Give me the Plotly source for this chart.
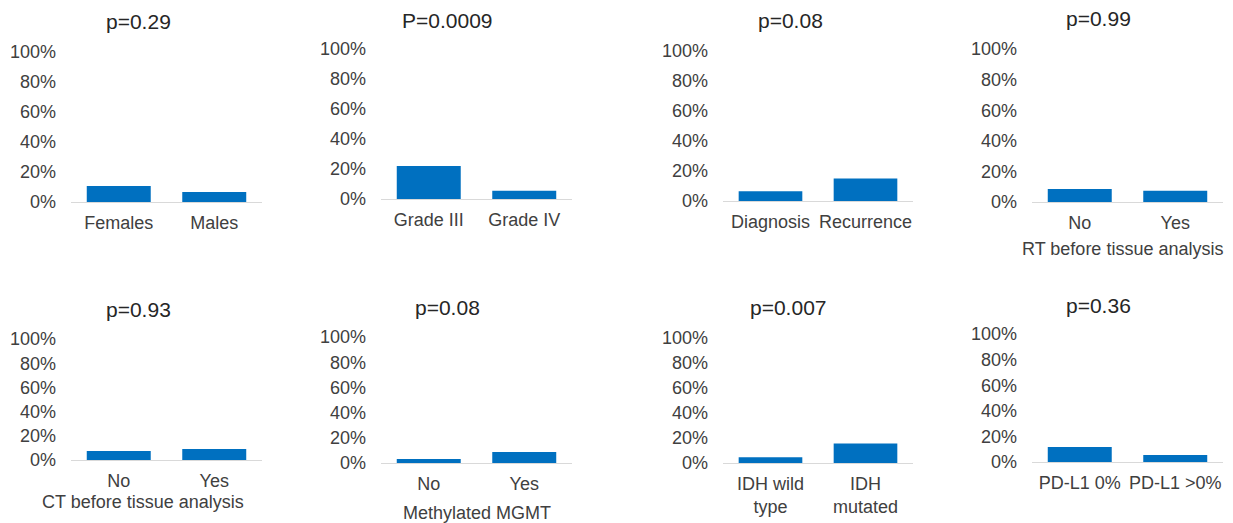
import plotly.graph_objects as go

W, H = 1233, 523
OFF = 8  # page body margin offset

titles = ["p=0.29", "P=0.0009", "p=0.08", "p=0.99", "p=0.93", "p=0.08", "p=0.007", "p=0.36"]
categories = [
    ["Females", "Males"],
    ["Grade III", "Grade IV"],
    ["Diagnosis", "Recurrence"],
    ["No", "Yes"],
    ["No", "Yes"],
    ["No", "Yes"],
    ["IDH wild<br>type", "IDH<br>mutated"],
    ["PD-L1 0%", "PD-L1 >0%"],
]
values = [
    [10.7, 6.7],
    [22.0, 5.5],
    [6.5, 15.0],
    [8.5, 7.3],
    [7.4, 9.0],
    [3.1, 8.7],
    [4.7, 15.7],
    [11.7, 5.5],
]
xtitles = ["", "", "", "RT before tissue analysis", "CT before tissue analysis", "Methylated MGMT", "", ""]
ytickvals = [0, 20, 40, 60, 80, 100]
yticktext = ["0%", "20%", "40%", "60%", "80%", "100%"]

# layout in screen pixels: (x0, x1, y_at_100, y_at_0)
boxes = [
    (71, 262, 52, 202), (381, 572, 49, 199), (723, 913, 51, 201), (1032, 1223, 49, 202),
    (71, 262, 339, 460), (381, 572, 337, 463), (723, 913, 338, 463), (1032, 1223, 334, 462),
]
title_pos = [(138, 22), (447, 20), (790, 20), (1098, 18), (138, 309), (447, 307), (788, 307), (1098, 305)]
xtitle_pos = [None, None, None, (1122, 249), (143, 502), (477, 513), None, None]

TXT = "#404040"
FONT = "Liberation Sans, Arial, sans-serif"


def fx(px):
    return (px - OFF) / W


def fy(py):
    return 1 - (py - OFF) / H


fig = go.Figure()
annotations = []
for i in range(8):
    n = i + 1
    xa = "x" if n == 1 else f"x{n}"
    ya = "y" if n == 1 else f"y{n}"
    fig.add_trace(go.Bar(
        x=categories[i], y=values[i], xaxis=xa, yaxis=ya,
        marker=dict(color="#0070C0", line=dict(width=0)), width=0.67,
        showlegend=False, hoverinfo="x+y",
    ))
    x0, x1, y100, y0 = boxes[i]
    xkey = "xaxis" if n == 1 else f"xaxis{n}"
    ykey = "yaxis" if n == 1 else f"yaxis{n}"
    fig.update_layout(**{
        xkey: dict(domain=[fx(x0), fx(x1)], anchor=ya, showline=True, linecolor="#D9D9D9",
                   linewidth=1, showgrid=False, zeroline=False, ticks="", automargin=False,
                   ticklabelstandoff=4,
                   tickfont=dict(size=18, color=TXT, family=FONT), fixedrange=True),
        ykey: dict(domain=[fy(y0), fy(y100)], anchor=xa, range=[0, 100],
                   tickvals=ytickvals, ticktext=yticktext, showgrid=False, zeroline=False,
                   showline=False, ticks="", ticklabelstandoff=14, automargin=False,
                   tickfont=dict(size=18, color=TXT, family=FONT), fixedrange=True),
    })
    tx, ty = title_pos[i]
    annotations.append(dict(text=titles[i], x=fx(tx), y=fy(ty), xref="paper", yref="paper",
                            xanchor="center", yanchor="middle", showarrow=False,
                            font=dict(size=21, color="#262626", family=FONT)))
    if xtitle_pos[i]:
        px, py = xtitle_pos[i]
        annotations.append(dict(text=xtitles[i], x=fx(px), y=fy(py), xref="paper", yref="paper",
                                xanchor="center", yanchor="middle", showarrow=False,
                                font=dict(size=18, color=TXT, family=FONT)))

fig.update_layout(
    template="none",
    width=W, height=H, margin=dict(l=0, r=0, t=0, b=0, autoexpand=False),
    paper_bgcolor="white", plot_bgcolor="white",
    annotations=annotations, bargap=0.33,
)
fig.write_html("out.html")
